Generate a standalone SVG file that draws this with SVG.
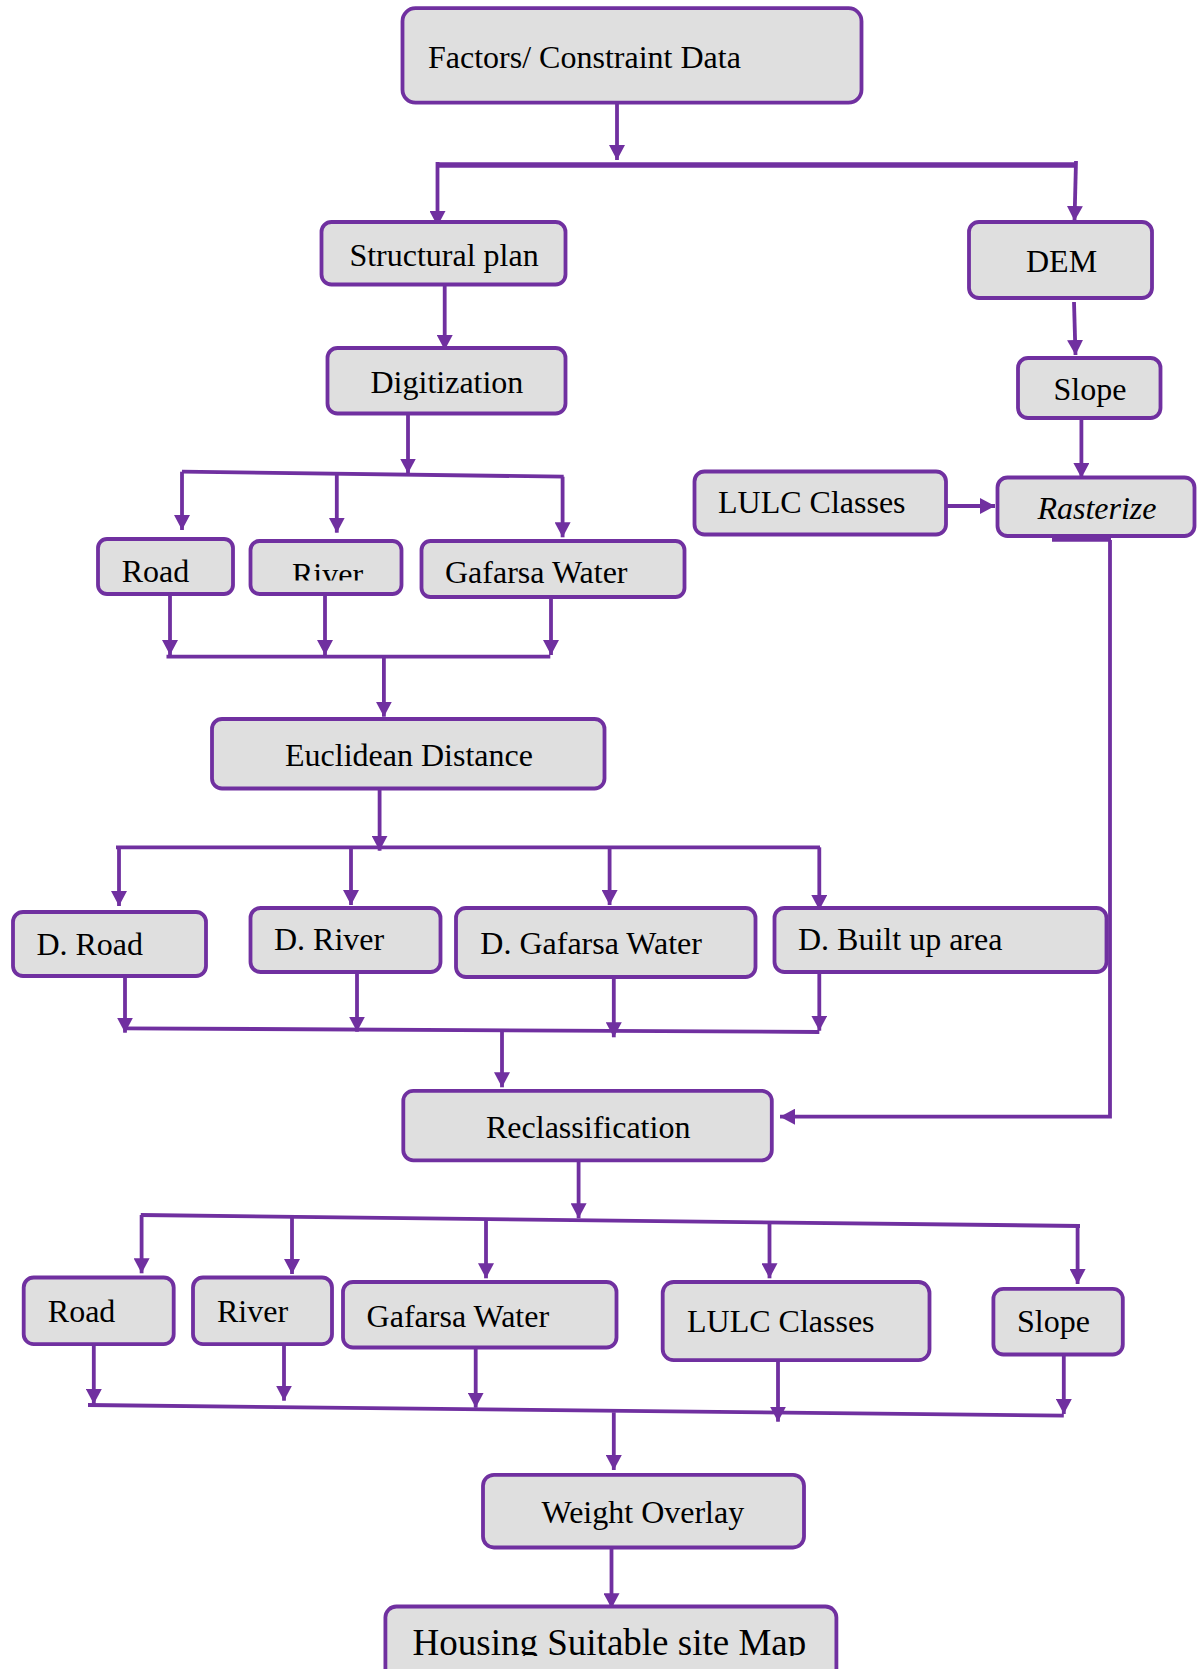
<svg xmlns="http://www.w3.org/2000/svg" width="1200" height="1669" viewBox="0 0 1200 1669">
<style>
.box{fill:#DFDFDF;stroke:#7030A0;stroke-width:3.8}
.t{font-family:"Liberation Serif","Times New Roman",serif;font-size:32px;fill:#000}
.c{fill:none;stroke:#7030A0;stroke-width:3.8}
.a{marker-end:url(#ah)}
</style>
<defs>
<marker id="ah" markerUnits="userSpaceOnUse" markerWidth="15" markerHeight="16" refX="15" refY="8" orient="auto">
<path d="M0,0 L15,8 L0,16 z" fill="#7030A0"/>
</marker>
<clipPath id="clipRiver"><rect x="250" y="540" width="152" height="40.5"/></clipPath>
<clipPath id="clipHousing"><rect x="385" y="1600" width="452" height="56"/></clipPath>
</defs>
<rect width="1200" height="1669" fill="#fff"/>
<g id="connectors">
<path class="c a" d="M617,104 V160"/>
<path class="c" d="M436,165 H1075" style="stroke-width:5.5"/>
<path class="c a" d="M437.5,162 V226"/>
<path class="c a" d="M1076,161 L1074.5,221"/>
<path class="c a" d="M444.7,286 V350"/>
<path class="c a" d="M1074,302 L1075.5,355"/>
<path class="c a" d="M1081.4,420 V478"/>
<path class="c a" d="M945,506 H995"/>
<path class="c a" d="M408,415 V473.5"/>
<path class="c" d="M182,471.7 L563.7,476.7"/>
<path class="c a" d="M182,471.7 V530"/>
<path class="c a" d="M336.8,474 V532.7"/>
<path class="c a" d="M562.6,476.7 V537.3"/>
<path class="c a" d="M170,595.7 V655"/>
<path class="c a" d="M325,595.7 V655"/>
<path class="c a" d="M551,598 V655"/>
<path class="c" d="M166.5,656.7 H550.3"/>
<path class="c a" d="M383.9,656.7 V716.7"/>
<path class="c a" d="M379.6,790 V850.7"/>
<path class="c" d="M116,847.3 H820"/>
<path class="c a" d="M119,847.3 V906"/>
<path class="c a" d="M351,847.3 V905"/>
<path class="c a" d="M609.6,847.3 V905"/>
<path class="c a" d="M819.3,847.3 V910"/>
<path class="c a" d="M125,977 V1032.7"/>
<path class="c a" d="M357,973 V1031.7"/>
<path class="c a" d="M613.8,978 V1037.3"/>
<path class="c a" d="M819.3,973 V1030.7"/>
<path class="c" d="M125,1028.3 L819.3,1032"/>
<path class="c a" d="M502,1030 V1087.3"/>
<path class="c" d="M1052,539.5 H1111" style="stroke-width:4.5"/>
<path class="c a" d="M1110,540 V1116.7 H780"/>
<path class="c a" d="M578.6,1161.7 V1218.3"/>
<path class="c" d="M140.8,1215 L1080,1226"/>
<path class="c a" d="M141.6,1215 V1273.3"/>
<path class="c a" d="M292,1217 V1274"/>
<path class="c a" d="M486,1219.3 V1278.3"/>
<path class="c a" d="M769.5,1222.3 V1278.3"/>
<path class="c a" d="M1077.6,1226 V1284"/>
<path class="c a" d="M93.8,1345.7 V1404"/>
<path class="c a" d="M284,1340 V1400.7"/>
<path class="c a" d="M475.7,1349 V1407.7"/>
<path class="c a" d="M778,1361.7 V1421.7"/>
<path class="c a" d="M1063.8,1356 V1414"/>
<path class="c" d="M88,1405 L1063.8,1415.7"/>
<path class="c a" d="M613.8,1412.3 V1470"/>
<path class="c a" d="M611.5,1549 V1608.3"/>
</g>
<g id="n_factors"><rect class="box" x="402.5" y="8.2" width="459" height="94.5" rx="13"/><text class="t" x="428" y="68.3">Factors/ Constraint Data</text></g>
<g id="n_structural"><rect class="box" x="321.5" y="222" width="244" height="62.5" rx="10"/><text class="t" x="349.4" y="265.7">Structural plan</text></g>
<g id="n_digitization"><rect class="box" x="327.5" y="348" width="238" height="65.5" rx="10"/><text class="t" x="370.5" y="393.3">Digitization</text></g>
<g id="n_dem"><rect class="box" x="969" y="222" width="183" height="76" rx="10"/><text class="t" x="1026" y="271.7">DEM</text></g>
<g id="n_slope1"><rect class="box" x="1018" y="358" width="142.5" height="60" rx="10"/><text class="t" x="1053.5" y="400">Slope</text></g>
<g id="n_lulc1"><rect class="box" x="694.5" y="471.5" width="251.5" height="63" rx="10"/><text class="t" x="718" y="513.3">LULC Classes</text></g>
<g id="n_rasterize"><rect class="box" x="997.5" y="477.5" width="197" height="58.5" rx="10"/><text class="t" x="1037.4" y="519.3" font-style="italic">Rasterize</text></g>
<g id="n_road1"><rect class="box" x="98" y="539" width="135" height="55" rx="9"/><text class="t" x="121.7" y="581.7">Road</text></g>
<g id="n_river1"><rect class="box" x="250.5" y="541" width="151" height="53" rx="9"/><text class="t" x="292" y="585" clip-path="url(#clipRiver)">River</text></g>
<g id="n_gafarsa1"><rect class="box" x="421.5" y="541" width="263" height="56" rx="9"/><text class="t" x="445" y="583.3">Gafarsa Water</text></g>
<g id="n_euclid"><rect class="box" x="212" y="719" width="392.5" height="69.5" rx="10"/><text class="t" x="285" y="765.7">Euclidean Distance</text></g>
<g id="n_droad"><rect class="box" x="13" y="912" width="193" height="64" rx="10"/><text class="t" x="36.4" y="955">D. Road</text></g>
<g id="n_driver"><rect class="box" x="250.5" y="908" width="190" height="64" rx="10"/><text class="t" x="274" y="950">D. River</text></g>
<g id="n_dgafarsa"><rect class="box" x="456" y="908" width="299.5" height="69" rx="10"/><text class="t" x="480.3" y="954.3">D. Gafarsa Water</text></g>
<g id="n_dbuilt"><rect class="box" x="774.5" y="908" width="332" height="64" rx="10"/><text class="t" x="798" y="950">D. Built up area</text></g>
<g id="n_reclass"><rect class="box" x="403.3" y="1090.8" width="368.5" height="69.5" rx="10"/><text class="t" x="486" y="1137.7">Reclassification</text></g>
<g id="n_road2"><rect class="box" x="23.7" y="1277.5" width="150" height="66.7" rx="10"/><text class="t" x="47.8" y="1322.3">Road</text></g>
<g id="n_river2"><rect class="box" x="193" y="1277.5" width="139" height="66.7" rx="10"/><text class="t" x="217" y="1322.3">River</text></g>
<g id="n_gafarsa2"><rect class="box" x="343" y="1282" width="273.5" height="65.5" rx="10"/><text class="t" x="366.6" y="1326.7">Gafarsa Water</text></g>
<g id="n_lulc2"><rect class="box" x="662.7" y="1282" width="266.8" height="78.2" rx="11"/><text class="t" x="687" y="1331.7">LULC Classes</text></g>
<g id="n_slope2"><rect class="box" x="993.4" y="1288.8" width="129.4" height="65.7" rx="10"/><text class="t" x="1017" y="1331.7">Slope</text></g>
<g id="n_weight"><rect class="box" x="483" y="1474.8" width="321" height="72.7" rx="11"/><text class="t" x="541.5" y="1522.7">Weight Overlay</text></g>
<g id="n_housing"><rect class="box" x="385.4" y="1606.5" width="451" height="80" rx="11"/><text class="t" x="412.6" y="1654.5" style="font-size:37px" clip-path="url(#clipHousing)">Housing Suitable site Map</text></g>
</svg>
